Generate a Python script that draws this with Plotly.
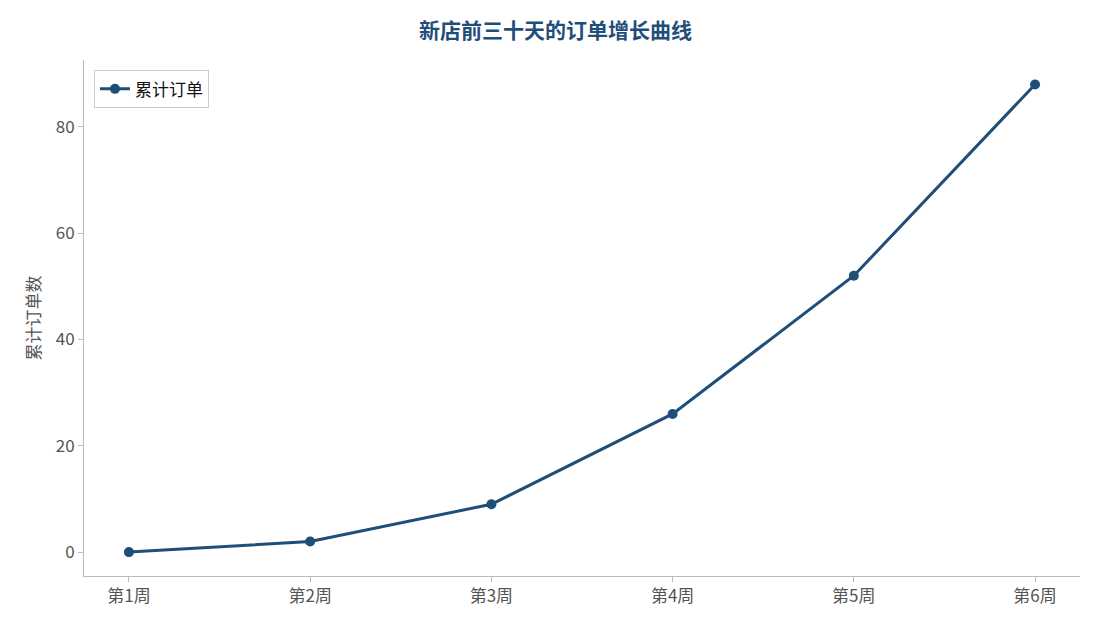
import plotly.graph_objects as go

weeks = ["第1周", "第2周", "第3周", "第4周", "第5周", "第6周"]
orders = [0, 2, 9, 26, 52, 88]

fig = go.Figure()
fig.add_trace(go.Scatter(
    x=list(range(len(weeks))), y=orders, mode="lines+markers", name="累计订单",
    line=dict(color="#1f4e79", width=3), marker=dict(size=10, color="#1f4e79"),
))

font = "Noto Sans CJK SC"
fig.update_layout(
    width=1095, height=629, plot_bgcolor="white", paper_bgcolor="white",
    margin=dict(l=76, r=23, t=52, b=61),
    font=dict(family=font, size=17, color="#555555"),
    title=dict(text="<b>新店前三十天的订单增长曲线</b>", x=0.5, xanchor="center", y=0.975,
               font=dict(size=21, color="#1f4e79", family=font)),
    legend=dict(x=0.01, y=0.98, xanchor="left", yanchor="top", bordercolor="#cccccc",
                borderwidth=1, bgcolor="white", font=dict(color="#111111", size=17)),
    showlegend=True,
)
fig.update_xaxes(tickvals=list(range(len(weeks))), ticktext=weeks, range=[-0.248, 5.248],
                 showline=True, linecolor="#bbbbbb", ticks="outside", tickcolor="#bbbbbb",
                 showgrid=False, zeroline=False)
fig.update_yaxes(title=dict(text="累计订单数", standoff=10, font=dict(size=17)), range=[-4.5, 92.6],
                 tickvals=[0, 20, 40, 60, 80], showline=True, linecolor="#bbbbbb",
                 ticks="outside", tickcolor="#bbbbbb", showgrid=False, zeroline=False)

fig.write_html("out.html")
